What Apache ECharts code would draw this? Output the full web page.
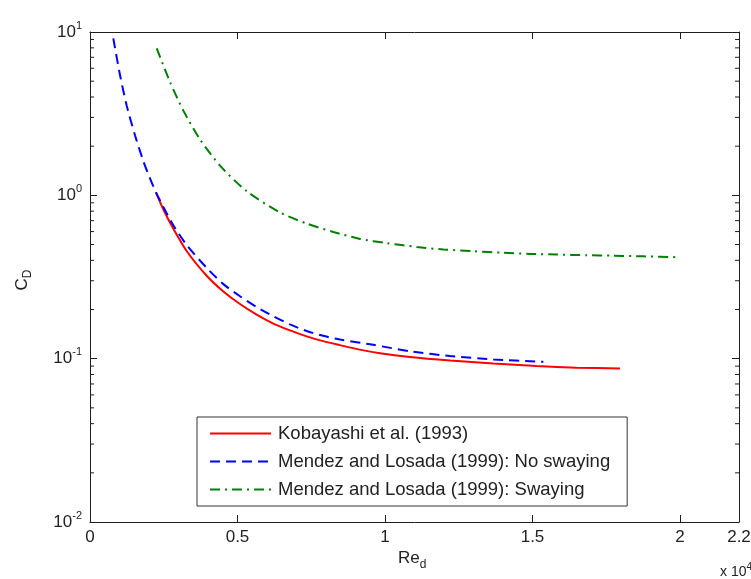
<!DOCTYPE html>
<html>
<head>
<meta charset="utf-8">
<script src="https://cdn.jsdelivr.net/npm/echarts@6/dist/echarts.min.js"></script>
<style>html,body{margin:0;padding:0;background:#fff;}#c{width:751px;height:579px;}</style>
</head>
<body>
<div id="c"></div>
<script>
// ---- data ----
const seriesNames = ['Kobayashi et al. (1993)', 'Mendez and Losada (1999): No swaying', 'Mendez and Losada (1999): Swaying'];

const kobX = [2240, 2500, 2825, 3300, 3955, 4500, 5085, 5650, 6215, 6780, 7345, 7900, 8475, 9100, 9831, 10848, 12204, 13673, 15143, 16499, 17967];
const kobY = [1.04, 0.81, 0.625, 0.45, 0.322, 0.26, 0.216, 0.186, 0.164, 0.149, 0.137, 0.128, 0.121, 0.114, 0.108, 0.1025, 0.0975, 0.0933, 0.0902, 0.0881, 0.0870];

const noSwayX = [790, 1017, 1243, 1526, 1808, 2034, 2240, 2500, 2825, 3300, 3955, 4500, 5085, 5650, 6215, 6780, 7345, 7900, 8475, 9605, 10848, 12204, 13673, 15143, 15369];
const noSwayY = [9.15, 5.45, 3.55, 2.33, 1.62, 1.27, 1.04, 0.84, 0.655, 0.49, 0.36, 0.288, 0.241, 0.207, 0.182, 0.162, 0.1476, 0.138, 0.131, 0.1215, 0.111, 0.1037, 0.099, 0.096, 0.0957];

const swayX = [2261, 2712, 3164, 3729, 4407, 5312, 6441, 7345, 8249, 9153, 10057, 11074, 11978, 12995, 14012, 14916, 15820, 16837, 17741, 18758, 19943];
const swayY = [7.95, 4.95, 3.30, 2.20, 1.52, 1.06, 0.785, 0.672, 0.597, 0.541, 0.510, 0.483, 0.466, 0.455, 0.445, 0.438, 0.434, 0.430, 0.427, 0.423, 0.418];

const xTicks = [0, 5000, 10000, 15000, 20000, 22000];
const xTickLabels = ['0', '0.5', '1', '1.5', '2', '2.2'];
const yMinor = [];
[0.01, 0.1, 1].forEach(d => { for (let k = 2; k <= 9; k++) yMinor.push(+(d * k).toPrecision(3)); });

// ---- chart ----
const FONT = 'Liberation Sans';
const AX = '#1e1e1e';
const TXT = '#222';
const pairs = (xs, ys) => xs.map((x, i) => [x, ys[i]]);

const baseX = {
  type: 'value', min: 0, max: 22000, interval: 5000,
  axisLine: { show: true, onZero: false, lineStyle: { color: AX, width: 1 } },
  splitLine: { show: false },
  axisTick: { show: true, inside: true, length: 7, lineStyle: { color: AX } }
};
const baseY = {
  type: 'log', logBase: 10, min: 0.01, max: 10,
  axisLine: { show: true, onZero: false, lineStyle: { color: AX, width: 1 } },
  splitLine: { show: false },
  minorTick: { show: false },
  axisTick: { show: true, inside: true, length: 7, lineStyle: { color: AX } }
};

const chart = echarts.init(document.getElementById('c'), null, { renderer: 'canvas' });
chart.setOption({
  animation: false,
  backgroundColor: '#fff',
  grid: { left: 90, right: 12, top: 32, bottom: 57, containLabel: false, outerBoundsMode: 'none' },
  xAxis: [
    Object.assign({}, baseX, {
      position: 'bottom',
      axisLabel: {
        show: true, margin: 7, showMinLabel: true, showMaxLabel: true,
        fontFamily: FONT, fontSize: 17, color: TXT,
        formatter: v => { const i = xTicks.indexOf(v); return i >= 0 ? xTickLabels[i] : String(v / 10000); }
      }
    }),
    Object.assign({}, baseX, {
      position: 'top',
      axisLabel: { show: false }
    })
  ],
  yAxis: [
    Object.assign({}, baseY, {
      position: 'left',
      axisLabel: {
        show: true, margin: 8, showMinLabel: true, showMaxLabel: true,
        fontFamily: FONT, color: TXT,
        formatter: v => '{b|10}{s|' + Math.round(Math.log10(v)) + '}',
        rich: {
          b: { fontFamily: FONT, fontSize: 17, color: TXT },
          s: { fontFamily: FONT, fontSize: 11, color: TXT, padding: [0, 0, 13, 0] }
        }
      }
    }),
    Object.assign({}, baseY, {
      position: 'right',
      axisLabel: { show: false }
    })
  ],
  legend: {
    orient: 'vertical',
    left: 197, top: 417,
    backgroundColor: '#fff',
    borderColor: '#333', borderWidth: 1, borderRadius: 0,
    padding: [7, 17, 7, 12],
    itemWidth: 61, itemHeight: 14, itemGap: 9,
    itemStyle: { opacity: 0 },
    textStyle: { fontFamily: FONT, fontSize: 18.5, color: TXT, padding: [0, 0, 0, 2] },
    data: seriesNames.slice(),
    selectedMode: false
  },
  series: [
    {
      name: seriesNames[0], type: 'line', data: pairs(kobX, kobY),
      xAxisIndex: 0, yAxisIndex: 0, symbol: 'none', smooth: 0.25, z: 3,
      lineStyle: { color: '#ff0000', width: 2, type: 'solid' },
      itemStyle: { color: '#ff0000' }
    },
    {
      name: seriesNames[1], type: 'line', data: pairs(noSwayX, noSwayY),
      xAxisIndex: 0, yAxisIndex: 0, symbol: 'none', smooth: 0.25, z: 4,
      lineStyle: { color: '#0000ff', width: 2, type: [10, 6] },
      itemStyle: { color: '#0000ff' }
    },
    {
      name: seriesNames[2], type: 'line', data: pairs(swayX, swayY),
      xAxisIndex: 0, yAxisIndex: 0, symbol: 'none', smooth: 0.25, z: 4,
      lineStyle: { color: '#008000', width: 2, type: [10, 5, 2, 5] },
      itemStyle: { color: '#008000' }
    },
    {
      name: 'minorTicks', type: 'custom', xAxisIndex: 0, yAxisIndex: 0,
      silent: true, clip: false, z: 2,
      data: yMinor.map(v => [0, v]),
      renderItem: (params, api) => {
        const v = api.value(1);
        const pl = api.coord([0, v]);
        const pr = api.coord([22000, v]);
        const st = { stroke: AX, lineWidth: 1 };
        return {
          type: 'group',
          children: [
            { type: 'line', shape: { x1: pl[0], y1: pl[1], x2: pl[0] + 4, y2: pl[1] }, style: st },
            { type: 'line', shape: { x1: pr[0] - 4, y1: pr[1], x2: pr[0], y2: pr[1] }, style: st }
          ]
        };
      }
    }
  ],
  graphic: [
    {
      type: 'text', left: 398, top: 550,
      style: {
        text: '{b|Re}{s|d}',
        rich: {
          b: { fontFamily: FONT, fontSize: 17, fill: TXT },
          s: { fontFamily: FONT, fontSize: 12, fill: TXT, padding: [12, 0, 0, 0] }
        }
      }
    },
    {
      type: 'text', left: 720, top: 562,
      style: {
        text: '{b|x 10}{s|4}',
        rich: {
          b: { fontFamily: FONT, fontSize: 14, fill: TXT },
          s: { fontFamily: FONT, fontSize: 10, fill: TXT, padding: [0, 0, 10, 0] }
        }
      }
    },
    {
      type: 'text', x: 22, y: 280, rotation: Math.PI / 2,
      style: {
        text: '{b|C}{s|D}',
        align: 'center', verticalAlign: 'middle',
        rich: {
          b: { fontFamily: FONT, fontSize: 17, fill: TXT },
          s: { fontFamily: FONT, fontSize: 12, fill: TXT, padding: [12, 0, 0, 0] }
        }
      }
    }
  ]
});
</script>
</body>
</html>
